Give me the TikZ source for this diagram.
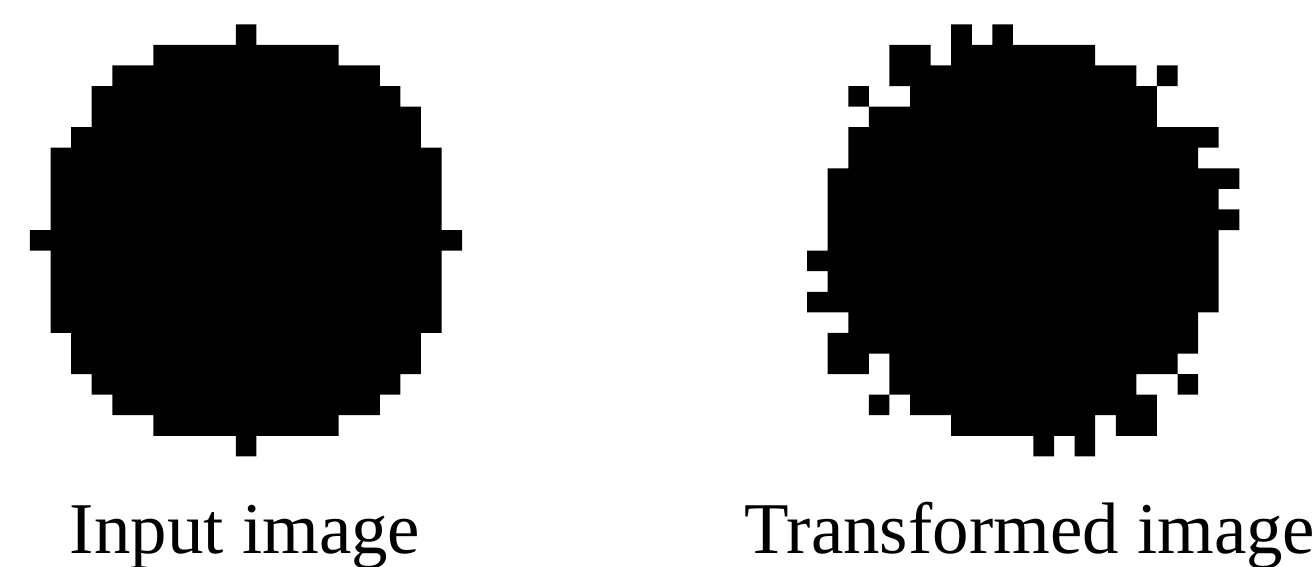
\documentclass[tikz,border=0pt]{standalone}
\usepackage{fontspec}
\setmainfont{Liberation Serif}

\begin{document}
\begin{tikzpicture}[x=0.02cm, y=-0.02cm,
    every node/.style={font=\fontsize{41.5}{50}\selectfont, inner sep=0pt},
    cell/.style={x=0.4116cm, y=-0.4116cm}]
  \useasboundingbox (0,0) rectangle (1315,567);

  % Input image: a digital disk, 21 x 21 cells
  \begin{scope}[xshift=0.6cm, yshift=-0.486cm, cell]
    \fill[black] \foreach \r/\a/\b in {0/10/10, 1/6/14, 2/4/16, 3/3/17, 4/3/18,
        5/2/18, 6/1/19, 7/1/19, 8/1/19, 9/1/19, 10/0/20, 11/1/19, 12/1/19,
        13/1/19, 14/1/19, 15/2/18, 16/2/18, 17/3/17, 18/4/16, 19/6/14, 20/10/10}
      { (\a,\r) rectangle (\b+1,\r+1) };
  \end{scope}

  % Transformed image: same disk with a noisy border
  \begin{scope}[xshift=16.146cm, yshift=-0.486cm, cell]
    \fill[black] \foreach \r/\a/\b in {0/7/7, 0/9/9, 1/4/5, 1/7/13, 2/4/15, 2/17/17,
        3/2/2, 3/5/16, 4/3/16, 5/2/19, 6/2/18, 7/1/20, 8/1/19, 9/1/20, 10/1/19,
        11/0/19, 12/1/19, 13/0/19, 14/2/18, 15/1/18, 16/1/2, 16/4/17, 17/4/15,
        17/18/18, 18/3/3, 18/5/16, 19/7/13, 19/15/16, 20/11/11, 20/13/13}
      { (\a,\r) rectangle (\b+1,\r+1) };
  \end{scope}

  \node[anchor=base] (inlabel) at (245,553) {Input image};
  \node[anchor=base] (outlabel) at (1030,553) {Transformed image};
\end{tikzpicture}
\end{document}
